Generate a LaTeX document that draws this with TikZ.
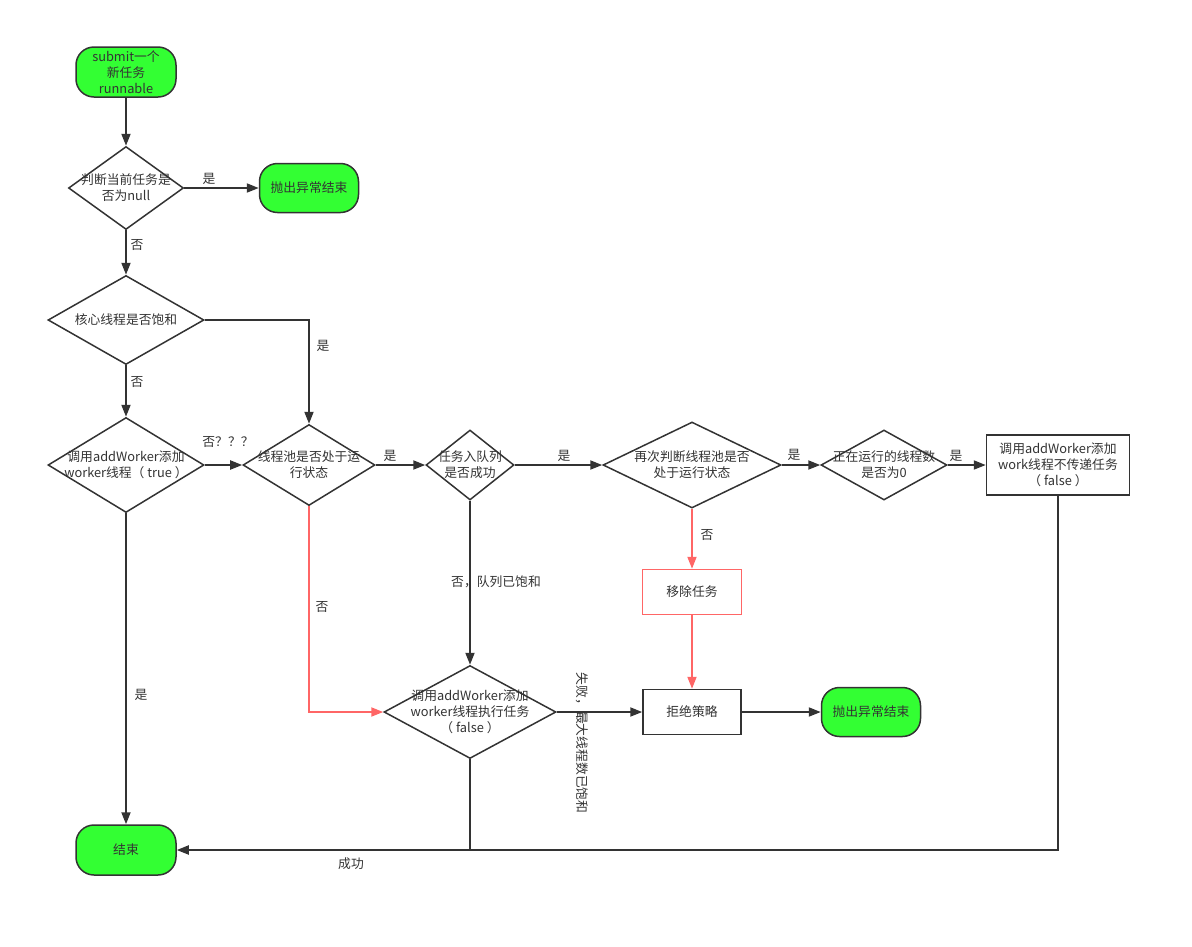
\documentclass[tikz,border=0pt]{standalone}
\usepackage{fontspec}
\setmainfont{Noto Sans CJK SC}
\usetikzlibrary{shapes.geometric,arrows.meta}
\definecolor{ln}{HTML}{333333}
\definecolor{rd}{HTML}{FF6666}
\definecolor{gr}{HTML}{33FF33}
\begin{document}
\begin{tikzpicture}[x=1pt,y=-1pt,
  every node/.style={font=\fontsize{12.8}{16}\selectfont, text=ln},
  dia/.style={diamond, draw=ln, line width=1.5pt, inner sep=0pt, fill=white},
  term/.style={rectangle, rounded corners=18pt, draw=ln, line width=1.5pt, fill=gr, inner sep=0pt, minimum width=100pt, minimum height=50pt, align=center},
  boxn/.style={rectangle, draw=ln, line width=1.5pt, fill=white, inner sep=0pt, align=center},
  e/.style={draw=ln, line width=1.9pt, -{Triangle[length=12pt,width=9pt]}},
  er/.style={draw=rd, line width=1.9pt, -{Triangle[length=12pt,width=9pt]}},
  lab/.style={inner sep=1pt},
  cl/.style={label={[align=center]center:{#1}}}
]
\useasboundingbox (0,0) rectangle (1192,946);
% nodes
\node[term] (s) at (126,72) {submit一个\\新任务\\runnable};
\node[dia, minimum width=115pt, minimum height=83pt, cl={判断当前任务是\\否为null}] (d1) at (126,188) {};
\node[term, minimum width=99pt, minimum height=49pt] (t1) at (309,188) {抛出异常结束};
\node[dia, minimum width=156pt, minimum height=89pt, cl={核心线程是否饱和}] (d2) at (126,320) {};
\node[dia, minimum width=156pt, minimum height=95pt, cl={调用addWorker添加\\worker线程（ true ）}] (d3) at (126,465) {};
\node[dia, minimum width=132pt, minimum height=81pt, cl={线程池是否处于运\\行状态}] (d4) at (309,465) {};
\node[dia, minimum width=88pt, minimum height=70pt, cl={任务入队列\\是否成功}] (d5) at (470,465) {};
\node[dia, minimum width=178pt, minimum height=86pt, cl={再次判断线程池是否\\处于运行状态}] (d6) at (692,465) {};
\node[dia, minimum width=126pt, minimum height=70pt, cl={正在运行的线程数\\是否为0}] (d7) at (884,465) {};
\node[boxn, minimum width=143pt, minimum height=60pt] (b1) at (1058,465) {调用addWorker添加\\work线程不传递任务\\（ false ）};
\node[boxn, draw=rd, minimum width=99pt, minimum height=45pt] (rm) at (692,592) {移除任务};
\node[dia, minimum width=172pt, minimum height=93pt, cl={调用addWorker添加\\worker线程执行任务\\（ false ）}] (d8) at (470,712) {};
\node[boxn, minimum width=98pt, minimum height=45pt] (rj) at (692,712) {拒绝策略};
\node[term, minimum width=99pt, minimum height=49pt] (t2) at (871,712) {抛出异常结束};
\node[term] (end) at (126,850) {结束};
\coordinate (j) at (470,850);
% edges
\draw[e] (s) -- (d1);
\draw[e] (d1) -- (t1);
\draw[e] (d1) -- (d2);
\draw[e] (d2.east) -| (d4.north);
\draw[e] (d2) -- (d3);
\draw[e] (d3) -- (d4);
\draw[e] (d3) -- (end);
\draw[e] (d4) -- (d5);
\draw[er] (d4.south) |- (d8.west);
\draw[e] (d5) -- (d6);
\draw[e] (d5) -- (d8);
\draw[e] (d6) -- (d7);
\draw[er] (d6) -- (rm);
\draw[e] (d7) -- (b1);
\draw[er] (rm) -- (rj);
\draw[e] (d8) -- (rj);
\draw[e] (rj) -- (t2);
\draw[e] (b1.south) |- (end.east);
\draw[draw=ln, line width=1.9pt] (d8.south) -- (j);
% labels
\node[lab] (l1) at (209,179) {是};
\node[lab] (l2) at (137,245) {否};
\node[lab] (l3) at (323,346) {是};
\node[lab] (l4) at (137,382) {否};
\node[lab] (l5) at (228,442) {否？？？};
\node[lab] (l6) at (141,695) {是};
\node[lab] (l7) at (390,456) {是};
\node[lab] (l8) at (322,607) {否};
\node[lab] (l9) at (564,456) {是};
\node[lab] (l10) at (496,582) {否，队列已饱和};
\node[lab] (l11) at (794,455) {是};
\node[lab] (l12) at (707,535) {否};
\node[lab] (l13) at (956,456) {是};
\node[lab, rotate=-90] (l14) at (582,743) {失败，最大线程数已饱和};
\node[lab] (l15) at (351,864) {成功};
\end{tikzpicture}
\end{document}
